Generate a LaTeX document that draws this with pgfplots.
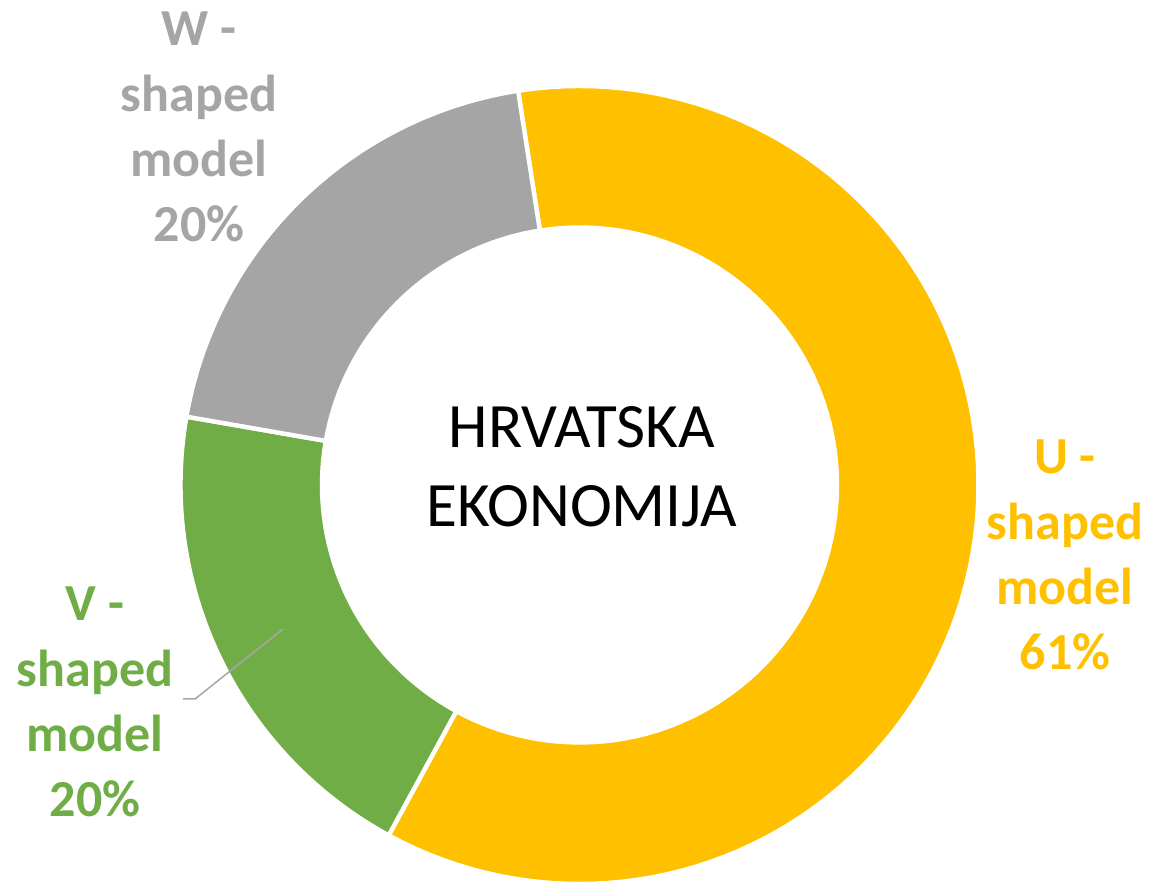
\documentclass[border=0pt]{standalone}
\usepackage{pgfplots}
\usepackage{pgfplotstable}
\pgfplotsset{compat=1.18}
\usepackage{fontspec}
\setmainfont{Carlito}
\definecolor{cU}{HTML}{FFC000}
\definecolor{cV}{HTML}{70AD47}
\definecolor{cW}{HTML}{A5A5A5}
\definecolor{cLead}{HTML}{A6A6A6}

\pgfplotstableread{
model value
U 61
V 20
W 20
}\datatable

\begin{document}
\begin{tikzpicture}
\pgfplotstablegetelem{0}{value}\of\datatable \let\vU\pgfplotsretval
\pgfplotstablegetelem{1}{value}\of\datatable \let\vV\pgfplotsretval
\pgfplotstablegetelem{2}{value}\of\datatable \let\vW\pgfplotsretval
\pgfmathsetmacro\tot{\vU+\vV+\vW}
\pgfmathsetmacro\aU{-8.85}
\pgfmathsetmacro\bU{\aU+(\vU/\tot)*360}
\pgfmathsetmacro\bV{\bU+(\vV/\tot)*360}
\pgfmathsetmacro\bW{\bV+(\vW/\tot)*360}
\newcommand\slice[3]{%
  \addplot[fill=#3, draw=white, line width=2.2pt, samples at={0,...,201}, variable=\t]
    ({579.5 + (\t<100.5 ? 399 : 257.5)*sin(\t<100.5 ? #1+(#2-#1)*\t/100 : #2-(#2-#1)*(\t-101)/100)},
     {397 + (\t<100.5 ? 399 : 257.5)*cos(\t<100.5 ? #1+(#2-#1)*\t/100 : #2-(#2-#1)*(\t-101)/100)}) -- cycle;
}
\begin{axis}[
  hide axis, scale only axis,
  width=576pt, height=441pt,
  xmin=0, xmax=1152, ymin=0, ymax=882,
]
\slice{\aU}{\bU}{cU}
\slice{\bU}{\bV}{cV}
\slice{\bV}{\bW}{cW}
\addplot[cLead, line width=0.75pt] coordinates {(283,253) (195,183) (183,183)};
\node[align=center, inner sep=0pt, font=\fontsize{31.6}{39.5}\selectfont] at (axis cs:582,415) {HRVATSKA\\EKONOMIJA};
\node[align=center, inner sep=0pt, text=cW, font=\fontsize{26}{32.6}\selectfont\bfseries] at (axis cs:199,755) {W -\\shaped\\model\\20\%};
\node[align=center, inner sep=0pt, text=cU, font=\fontsize{26}{32.6}\selectfont\bfseries] at (axis cs:1065,327) {U -\\shaped\\model\\61\%};
\node[align=center, inner sep=0pt, text=cV, font=\fontsize{26}{32.6}\selectfont\bfseries] at (axis cs:95,180) {V -\\shaped\\model\\20\%};
\end{axis}
\pgfresetboundingbox
\path[use as bounding box] (0,0) rectangle (576pt,441pt);
\end{tikzpicture}
\end{document}
